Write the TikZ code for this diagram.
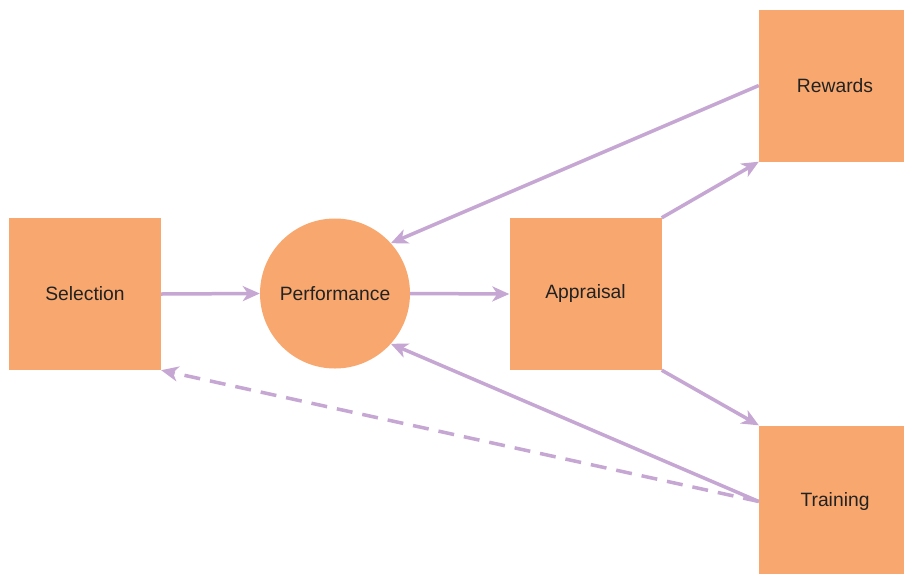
\documentclass[tikz,border=0pt]{standalone}
\usepackage{fontspec}
\setmainfont{Liberation Sans}
\usetikzlibrary{arrows.meta}
\definecolor{boxfill}{HTML}{F8A86F}
\definecolor{linkcol}{HTML}{C6A6D2}
\definecolor{txt}{HTML}{222222}
\begin{document}
\begin{tikzpicture}[x=1pt,y=-1pt,
  stage/.style={rectangle,fill=boxfill,minimum width=152pt,minimum height=152pt,inner sep=0pt,
    font=\fontsize{19.3}{21}\selectfont,text=txt},
  hub/.style={circle,fill=boxfill,minimum size=150pt,inner sep=0pt,
    font=\fontsize{19.3}{21}\selectfont,text=txt},
  link/.style={draw=linkcol,line width=3.5pt,-{Stealth[length=17pt,width=15pt,inset=5pt]}},
  backlink/.style={link,dash pattern=on 16pt off 10pt}]
\useasboundingbox (0,0) rectangle (904,573);
\clip (0,0) rectangle (904,573);
\fill[white] (0,0) rectangle (904,573);
\node[stage] (sel) at (85,294) {Selection};
\node[hub] (perf) at (335,293.5) {Performance};
\node[stage] (app) at (585.5,294) {Appraisal};
\node[stage] (rew) at (835,85.5) {Rewards};
\node[stage] (tra) at (835,501.5) {Training};
\draw[link] (sel.east) -- (perf.west);
\draw[link] (perf.east) -- (app.west);
\draw[link] (rew.west) -- (perf.42);
\draw[link] (tra.west) -- (perf.-42);
\draw[link] (app.north east) -- (rew.south west);
\draw[link] (app.south east) -- (tra.north west);
\draw[backlink] (tra.west) -- (sel.south east);
\end{tikzpicture}
\end{document}
